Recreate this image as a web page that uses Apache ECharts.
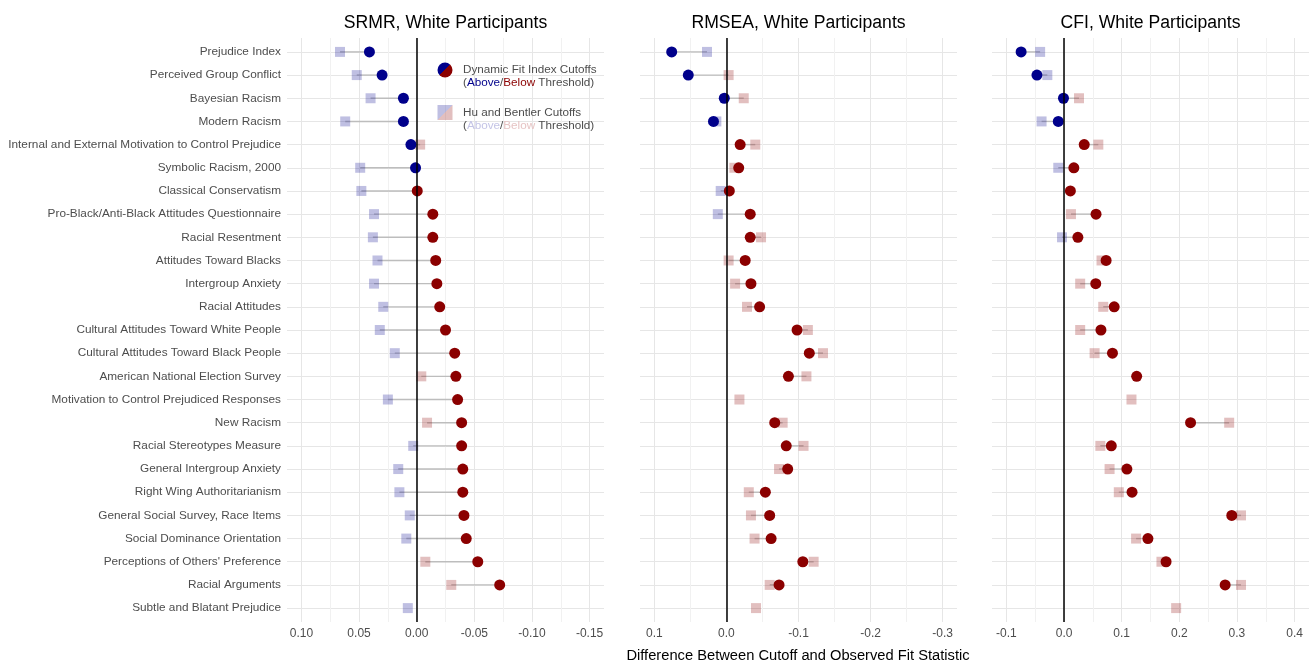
<!DOCTYPE html>
<html>
<head>
<meta charset="utf-8">
<script src="https://cdn.jsdelivr.net/npm/echarts@6/dist/echarts.min.js"></script>
<style>html,body{margin:0;padding:0;background:#fff}#chart{width:1316px;height:666px}</style>
</head>
<body>
<div id="chart"></div>
<script>
const categories = [
  'Prejudice Index',
  'Perceived Group Conflict',
  'Bayesian Racism',
  'Modern Racism',
  'Internal and External Motivation to Control Prejudice',
  'Symbolic Racism, 2000',
  'Classical Conservatism',
  'Pro-Black/Anti-Black Attitudes Questionnaire',
  'Racial Resentment',
  'Attitudes Toward Blacks',
  'Intergroup Anxiety',
  'Racial Attitudes',
  'Cultural Attitudes Toward White People',
  'Cultural Attitudes Toward Black People',
  'American National Election Survey',
  'Motivation to Control Prejudiced Responses',
  'New Racism',
  'Racial Stereotypes Measure',
  'General Intergroup Anxiety',
  'Right Wing Authoritarianism',
  'General Social Survey, Race Items',
  'Social Dominance Orientation',
  "Perceptions of Others' Preference",
  'Racial Arguments',
  'Subtle and Blatant Prejudice'
];

const srmrDynamic = [0.041, 0.030, 0.0115, 0.0115, 0.005, 0.001, -0.0005, -0.014, -0.014, -0.0165, -0.0175, -0.020, -0.025, -0.033, -0.034, -0.0355, -0.039, -0.039, -0.040, -0.040, -0.041, -0.043, -0.053, -0.072, null];
const srmrHuBentler = [0.0665, 0.052, 0.040, 0.062, -0.003, 0.049, 0.048, 0.037, 0.038, 0.034, 0.037, 0.029, 0.032, 0.019, -0.004, 0.025, -0.009, 0.003, 0.016, 0.015, 0.006, 0.009, -0.0075, -0.030, 0.0077];

const rmseaDynamic = [0.076, 0.053, 0.003, 0.018, -0.019, -0.017, -0.004, -0.033, -0.033, -0.026, -0.034, -0.046, -0.098, -0.115, -0.086, null, -0.067, -0.083, -0.085, -0.054, -0.060, -0.062, -0.106, -0.073, null];
const rmseaHuBentler = [0.027, -0.003, -0.024, 0.014, -0.040, -0.011, 0.008, 0.012, -0.048, -0.003, -0.012, -0.0285, -0.113, -0.134, -0.111, -0.018, -0.078, -0.107, -0.073, -0.031, -0.034, -0.039, -0.121, -0.060, -0.041];

const cfiDynamic = [-0.0745, -0.047, -0.001, -0.010, 0.035, 0.017, 0.011, 0.0555, 0.024, 0.073, 0.055, 0.087, 0.064, 0.084, 0.126, null, 0.2195, 0.082, 0.109, 0.118, 0.291, 0.1455, 0.177, 0.2795, null];
const cfiHuBentler = [-0.0415, -0.029, 0.026, -0.039, 0.0595, -0.010, null, 0.012, -0.0035, 0.065, 0.028, 0.068, 0.028, 0.053, null, 0.117, 0.2865, 0.063, 0.079, 0.095, 0.307, 0.125, 0.169, 0.307, 0.1945];

const panelTitles = ['SRMR, White Participants', 'RMSEA, White Participants', 'CFI, White Participants'];
const srmrTickLabels = ['0.10', '0.05', '0.00', '-0.05', '-0.10', '-0.15'];
const rmseaTickLabels = ['0.1', '0.0', '-0.1', '-0.2', '-0.3'];
const cfiTickLabels = ['-0.1', '0.0', '0.1', '0.2', '0.3', '0.4'];
const xAxisTitle = 'Difference Between Cutoff and Observed Fit Statistic';

const FONT = 'Liberation Sans, Arial, Helvetica, sans-serif';
const DARK_BLUE = '#00008B', DARK_RED = '#8B0000';
const LIGHT_BLUE = 'rgba(0,0,139,0.25)', LIGHT_RED = 'rgba(139,0,0,0.25)';
const GRID_TOP = 38, GRID_HEIGHT = 584, GRID_WIDTH = 317;

const panels = [
  { title: panelTitles[0], dyn: srmrDynamic, hb: srmrHuBentler, ticks: srmrTickLabels, dec: 2, step: 0.05,
    min: -0.1625, max: 0.1125, inverse: true, bluePositive: true, left: 287 },
  { title: panelTitles[1], dyn: rmseaDynamic, hb: rmseaHuBentler, ticks: rmseaTickLabels, dec: 1, step: 0.1,
    min: -0.32, max: 0.12, inverse: true, bluePositive: true, left: 640 },
  { title: panelTitles[2], dyn: cfiDynamic, hb: cfiHuBentler, ticks: cfiTickLabels, dec: 1, step: 0.1,
    min: -0.125, max: 0.425, inverse: false, bluePositive: false, left: 992 }
];

function fmt(v, dec) {
  if (Math.abs(v) < 1e-9) v = 0;
  return v.toFixed(dec);
}

const grids = [], xAxes = [], yAxes = [], series = [], titles = [];
panels.forEach((p, i) => {
  grids.push({ left: p.left, top: GRID_TOP, width: GRID_WIDTH, height: GRID_HEIGHT, containLabel: false });
  titles.push({
    text: p.title, left: p.left + GRID_WIDTH / 2 - 5, top: 9, textAlign: 'center',
    textStyle: { fontFamily: FONT, fontSize: 17.6, fontWeight: 'normal', color: '#000' }
  });
  xAxes.push({
    type: 'value', gridIndex: i, min: p.min, max: p.max, inverse: p.inverse,
    minInterval: p.step, maxInterval: p.step,
    axisLine: { show: false }, axisTick: { show: false },
    axisLabel: {
      margin: 6, color: '#4d4d4d', fontFamily: FONT, fontSize: 12,
      formatter: v => { const s = fmt(v, p.dec); return p.ticks.indexOf(s) >= 0 ? s : ''; }
    },
    splitLine: { show: true, showMinLine: false, showMaxLine: false, lineStyle: { color: '#e6e6e6', width: 1 } },
    minorTick: { show: false, splitNumber: 2 },
    minorSplitLine: { show: true, lineStyle: { color: '#f1f1f1', width: 1 } }
  });
  yAxes.push({
    type: 'value', gridIndex: i, inverse: true, min: -0.6, max: categories.length - 0.4,
    minInterval: 1, maxInterval: 1,
    axisLine: { show: false }, axisTick: { show: false },
    axisLabel: {
      show: i === 0, margin: 6, color: '#4d4d4d', fontFamily: FONT, fontSize: 11.8,
      formatter: v => { const k = Math.round(v); return Math.abs(v - k) < 1e-6 && categories[k] !== undefined ? categories[k] : ''; }
    },
    splitLine: { show: true, showMinLine: false, showMaxLine: false, lineStyle: { color: '#e6e6e6', width: 1 } }
  });
  const isAbove = v => p.bluePositive ? v > 0 : v < 0;
  const segData = [];
  categories.forEach((c, j) => {
    if (p.dyn[j] != null && p.hb[j] != null) segData.push([p.dyn[j], p.hb[j], j]);
  });
  series.push({
    type: 'custom', xAxisIndex: i, yAxisIndex: i, silent: true, z: 1,
    data: segData,
    encode: { x: [0, 1], y: 2 },
    renderItem: (params, api) => {
      const a = api.coord([api.value(0), api.value(2)]);
      const b = api.coord([api.value(1), api.value(2)]);
      return { type: 'line', shape: { x1: a[0], y1: a[1], x2: b[0], y2: b[1] },
               style: { stroke: '#bdbdbd', lineWidth: 1.4 } };
    }
  });
  series.push({
    type: 'scatter', xAxisIndex: i, yAxisIndex: i, symbol: 'rect', symbolSize: 10, silent: true, z: 2,
    itemStyle: { opacity: 1 },
    data: p.hb.map((v, j) => v == null ? null : { value: [v, j], itemStyle: { color: isAbove(v) ? LIGHT_BLUE : LIGHT_RED, opacity: 1 } })
              .filter(d => d)
  });
  series.push({
    type: 'scatter', xAxisIndex: i, yAxisIndex: i, symbol: 'circle', symbolSize: 11, silent: true, z: 3,
    itemStyle: { opacity: 1 },
    data: p.dyn.map((v, j) => v == null ? null : { value: [v, j], itemStyle: { color: isAbove(v) ? DARK_BLUE : DARK_RED, opacity: 1 } })
              .filter(d => d),
    markLine: {
      silent: true, symbol: 'none', animation: false,
      label: { show: false },
      lineStyle: { color: '#000', width: 1.5, type: 'solid', opacity: 1 },
      data: [{ xAxis: 0 }]
    }
  });
});

const grad = (c1, c2) => new echarts.graphic.LinearGradient(0, 0, 1, 1, [
  { offset: 0, color: c1 }, { offset: 0.5, color: c1 }, { offset: 0.5, color: c2 }, { offset: 1, color: c2 }
]);
const LEG_FS = 11.7;
const legendText = (x, y, text, rich) => ({
  type: 'text', x: x, y: y, z: 10,
  style: { text: text, fontFamily: FONT, fontSize: LEG_FS, fill: '#4d4d4d', verticalAlign: 'middle', rich: rich }
});
const richDark = {
  g: { fontFamily: FONT, fontSize: LEG_FS, fill: '#4d4d4d' },
  b: { fontFamily: FONT, fontSize: LEG_FS, fill: DARK_BLUE },
  r: { fontFamily: FONT, fontSize: LEG_FS, fill: DARK_RED }
};
const richLight = {
  g: { fontFamily: FONT, fontSize: LEG_FS, fill: '#4d4d4d' },
  b: { fontFamily: FONT, fontSize: LEG_FS, fill: '#c4c4e6' },
  r: { fontFamily: FONT, fontSize: LEG_FS, fill: '#e6c4c4' }
};

const chart = echarts.init(document.getElementById('chart'), null, { renderer: 'canvas' });
chart.setOption({
  animation: false,
  backgroundColor: '#fff',
  title: titles,
  grid: grids,
  xAxis: xAxes,
  yAxis: yAxes,
  series: series,
  graphic: [
    { type: 'circle', z: 10, shape: { cx: 445, cy: 70, r: 7.5 }, style: { fill: grad(DARK_BLUE, DARK_RED) } },
    legendText(463, 70, 'Dynamic Fit Index Cutoffs'),
    legendText(463, 83, '{g|(}{b|Above}{g|/}{r|Below}{g| Threshold)}', richDark),
    { type: 'rect', z: 10, shape: { x: 437.5, y: 105, width: 15, height: 15 }, style: { fill: grad(LIGHT_BLUE, LIGHT_RED) } },
    legendText(463, 112.5, 'Hu and Bentler Cutoffs'),
    legendText(463, 125.5, '{g|(}{b|Above}{g|/}{r|Below}{g| Threshold)}', richLight),
    { type: 'text', x: 798, y: 656, style: { text: xAxisTitle, fontFamily: FONT, fontSize: 14.7, fill: '#000', align: 'center', verticalAlign: 'middle' } }
  ]
});
</script>
</body>
</html>
